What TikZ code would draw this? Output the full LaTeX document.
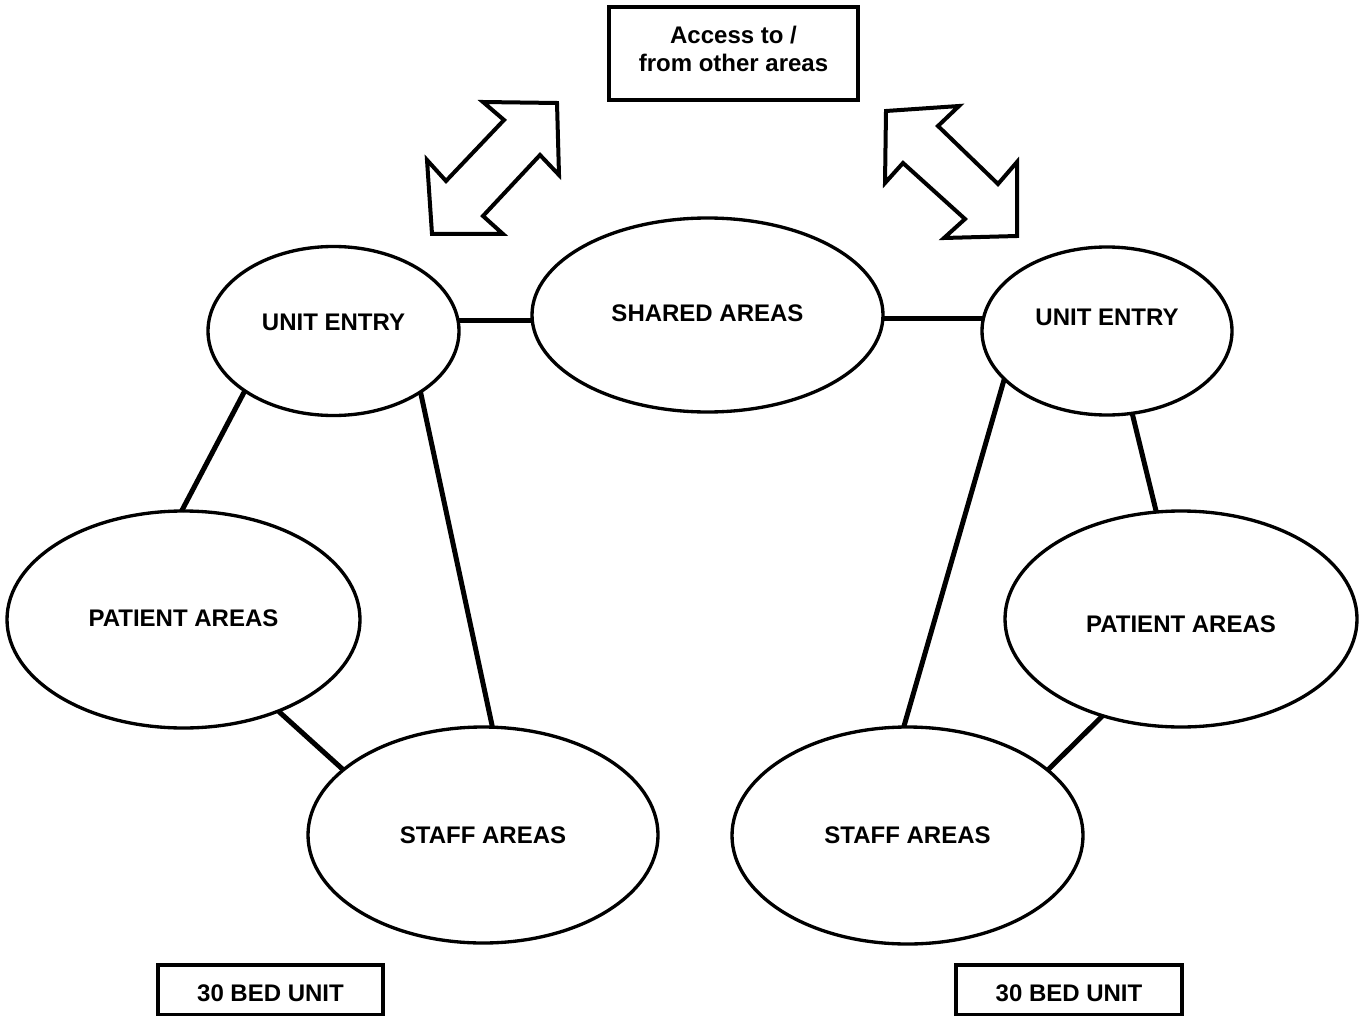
\documentclass[tikz,border=0pt]{standalone}
\usepackage{fontspec}
\setmainfont{Liberation Sans}
\usetikzlibrary{shapes.geometric}
\newcommand\liftxt[2]{\raisebox{#1}[0pt][0pt]{#2}}
\begin{document}
\begin{tikzpicture}[x=0.75pt,y=-0.75pt,
  area/.style={ellipse,draw,line width=2.5pt,inner sep=0pt,outer sep=0pt,
    font=\fontsize{18}{21}\selectfont\bfseries},
  conn/.style={line width=3.75pt},
  labelbox/.style={rectangle,draw,line width=2.4pt,inner sep=0pt,outer sep=0pt,
    align=center,font=\fontsize{18}{21}\selectfont\bfseries},
  dblarrow/.style={draw,line width=3pt,line join=miter,fill=white}]
\useasboundingbox (0,0) rectangle (1362,1016);

% ellipses
\node[area,minimum width=188.25pt,minimum height=126.75pt] (ueL) at (333.5,331) {\liftxt{0.3pt}{UNIT ENTRY}};
\node[area,minimum width=263.25pt,minimum height=145.5pt] (shared) at (707.5,315) {\liftxt{-5pt}{SHARED AREAS}};
\node[area,minimum width=187.5pt,minimum height=126pt] (ueR) at (1107,331) {\liftxt{4pt}{UNIT ENTRY}};
\node[area,minimum width=264.75pt,minimum height=162.75pt] (patL) at (183.5,619.5) {\liftxt{-5.3pt}{PATIENT AREAS}};
\node[area,minimum width=262.5pt,minimum height=162pt] (staffL) at (483,835) {\liftxt{-6.45pt}{STAFF AREAS}};
\node[area,minimum width=264pt,minimum height=162pt] (patR) at (1181,619) {\liftxt{-10.2pt}{PATIENT AREAS}};
\node[area,minimum width=263.25pt,minimum height=162.75pt] (staffR) at (907.5,835.5) {\liftxt{-6.1pt}{STAFF AREAS}};

% boxes
\node[labelbox,minimum width=186.75pt,minimum height=69.75pt] (access) at (733.5,53.5)
  {\liftxt{-2.85pt}{\begin{tabular}{@{}c@{}}Access to /\\from other areas\end{tabular}}};
\node[labelbox,minimum width=168.75pt,minimum height=37.5pt] (unitL) at (270.5,990) {\liftxt{-8.3pt}{30 BED UNIT}};
\node[labelbox,minimum width=169.5pt,minimum height=37.5pt] (unitR) at (1069,990) {\liftxt{-8.3pt}{30 BED UNIT}};

% connectors
\draw[conn] (ueL.5) -- (ueL.5 -| shared.west);
\draw[conn] (ueR.174) -- (ueR.174 -| shared.east);
\draw[conn] (ueL.214) -- (patL.91);
\draw[conn] (ueL.325) -- (staffL.85);
\draw[conn] (patL.316) -- (staffL.155);
\draw[conn] (ueR.205) -- (staffR.92);
\draw[conn] (ueR.287) -- (patR.103);
\draw[conn] (patR.231) -- (staffR.25);

% hollow double arrows
\path[dblarrow] (483,102) -- (557,103) -- (559,175) -- (540,155) -- (483,216) -- (503,234)
  -- (432,234) -- (427,160) -- (446,181) -- (504,120) -- cycle;
\path[dblarrow] (886,111) -- (959,106) -- (938,126) -- (998,184) -- (1017,162) -- (1017,236)
  -- (944,238) -- (965,219) -- (903,163) -- (885,183) -- cycle;
\end{tikzpicture}
\end{document}
